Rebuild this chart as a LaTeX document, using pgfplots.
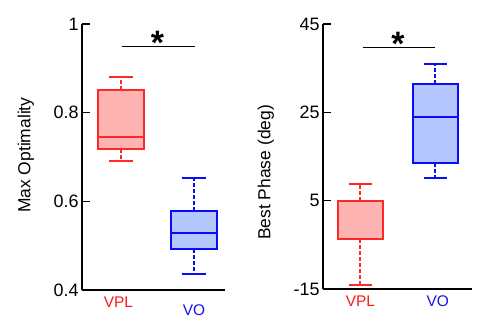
\documentclass[border=0pt]{standalone}
\usepackage{pgfplots}
\pgfplotsset{compat=1.18}
\usepackage{fontspec}
\setmainfont{Liberation Sans}
\definecolor{vplred}{RGB}{255,40,40}
\definecolor{vplfill}{RGB}{255,180,180}
\definecolor{voblue}{RGB}{10,10,255}
\definecolor{vofill}{RGB}{180,200,255}
\definecolor{lblred}{RGB}{255,20,20}
\definecolor{lblblue}{RGB}{20,20,235}
\pgfplotsset{
  myaxis/.style={
    scale only axis,
    axis x line*=bottom, axis y line*=left,
    axis line style={line width=1.3bp, black},
    every tick/.style={black, line width=1.3bp},
    major tick length=8bp,
    tick align=inside,
    xtick={1,2}, xtick style={draw=none},
    tick label style={font=\fontsize{18}{20}\selectfont},
    xticklabel style={font=\fontsize{15.5}{17}\selectfont, yshift=-3bp},
    label style={font=\fontsize{17.5}{20}\selectfont},
    clip=false,
  },
  wh/.style={line width=2.1bp, dash pattern=on 4bp off 2bp},
  sol/.style={line width=2bp, line join=miter},
}
\begin{document}
\begin{tikzpicture}
\path[use as bounding box] (0,0) rectangle (477bp,325bp);
% ---------- left panel ----------
\begin{axis}[myaxis,
  at={(82bp,35bp)}, anchor=south west,
  width=143bp, height=266bp,
  xmin=0.466, xmax=2.425, ymin=0.4, ymax=1,
  ytick={0.4,0.6,0.8,1}, yticklabels={0.4,0.6,0.8,1},
  xticklabels={\hspace*{-5bp}\textcolor{lblred}{VPL},\raisebox{-8bp}[\height][\depth]{\textcolor{lblblue}{VO}}},
  ylabel={Max Optimality},
  ylabel style={at={(axis description cs:-0.392,0.507)}, anchor=center},
]
% VPL: lower whisker 0.690, Q1 0.719, median 0.746, Q3 0.850, upper whisker 0.881
\addplot[vplred, wh] coordinates {(1,0.850) (1,0.881)};
\addplot[vplred, wh] coordinates {(1,0.719) (1,0.690)};
\addplot[draw=vplred, fill=vplfill, sol] coordinates {(0.685,0.719) (1.315,0.719) (1.315,0.850) (0.685,0.850) (0.685,0.719) (1.315,0.719)};
\addplot[vplred, sol] coordinates {(0.685,0.746) (1.315,0.746)};
\addplot[vplred, sol] coordinates {(0.842,0.881) (1.158,0.881)};
\addplot[vplred, sol] coordinates {(0.842,0.690) (1.158,0.690)};
% VO: lower whisker 0.436, Q1 0.492, median 0.528, Q3 0.579, upper whisker 0.652
\addplot[voblue, wh] coordinates {(2,0.579) (2,0.652)};
\addplot[voblue, wh] coordinates {(2,0.492) (2,0.436)};
\addplot[draw=voblue, fill=vofill, sol] coordinates {(1.685,0.492) (2.315,0.492) (2.315,0.579) (1.685,0.579) (1.685,0.492) (2.315,0.492)};
\addplot[voblue, sol] coordinates {(1.685,0.528) (2.315,0.528)};
\addplot[voblue, sol] coordinates {(1.842,0.652) (2.158,0.652)};
\addplot[voblue, sol] coordinates {(1.842,0.436) (2.158,0.436)};
% significance
\addplot[black, line width=1.3bp] coordinates {(1.01,0.95) (2.02,0.95)};
\node[font=\fontsize{34}{34}\selectfont\bfseries, inner sep=0pt] at (axis cs:1.5,0.958) {*};
\end{axis}
% ---------- right panel ----------
\begin{axis}[myaxis,
  at={(323bp,36bp)}, anchor=south west,
  width=149bp, height=265bp,
  xmin=0.5, xmax=2.49, ymin=-15, ymax=45,
  ytick={-15,5,25,45}, yticklabels={-15,5,25,45},
  xticklabels={\textcolor{lblred}{VPL},\hspace*{5bp}\textcolor{lblblue}{VO}},
  ylabel={Best Phase (deg)},
  ylabel style={at={(axis description cs:-0.383,0.44)}, anchor=center},
]
% VPL: lower whisker -14.2, Q1 -3.7, median -3.7, Q3 5.0, upper whisker 8.8
\addplot[vplred, wh] coordinates {(1,5.0) (1,8.8)};
\addplot[vplred, wh] coordinates {(1,-3.7) (1,-14.2)};
\addplot[draw=vplred, fill=vplfill, sol] coordinates {(0.7,-3.7) (1.3,-3.7) (1.3,5.0) (0.7,5.0) (0.7,-3.7) (1.3,-3.7)};
\addplot[vplred, sol] coordinates {(0.7,-3.7) (1.3,-3.7)};
\addplot[vplred, sol] coordinates {(0.845,8.8) (1.155,8.8)};
\addplot[vplred, sol] coordinates {(0.845,-14.2) (1.155,-14.2)};
% VO: lower whisker 10.2, Q1 13.6, median 23.9, Q3 31.5, upper whisker 36.0
\addplot[voblue, wh] coordinates {(2,31.5) (2,36.0)};
\addplot[voblue, wh] coordinates {(2,13.6) (2,10.2)};
\addplot[draw=voblue, fill=vofill, sol] coordinates {(1.7,13.6) (2.3,13.6) (2.3,31.5) (1.7,31.5) (1.7,13.6) (2.3,13.6)};
\addplot[voblue, sol] coordinates {(1.7,23.9) (2.3,23.9)};
\addplot[voblue, sol] coordinates {(1.845,36.0) (2.155,36.0)};
\addplot[voblue, sol] coordinates {(1.845,10.2) (2.155,10.2)};
% significance
\addplot[black, line width=1.3bp] coordinates {(1.03,39.7) (2.0,39.7)};
\node[font=\fontsize{34}{34}\selectfont\bfseries, inner sep=0pt] at (axis cs:1.5,40.5) {*};
\end{axis}
\end{tikzpicture}
\end{document}
